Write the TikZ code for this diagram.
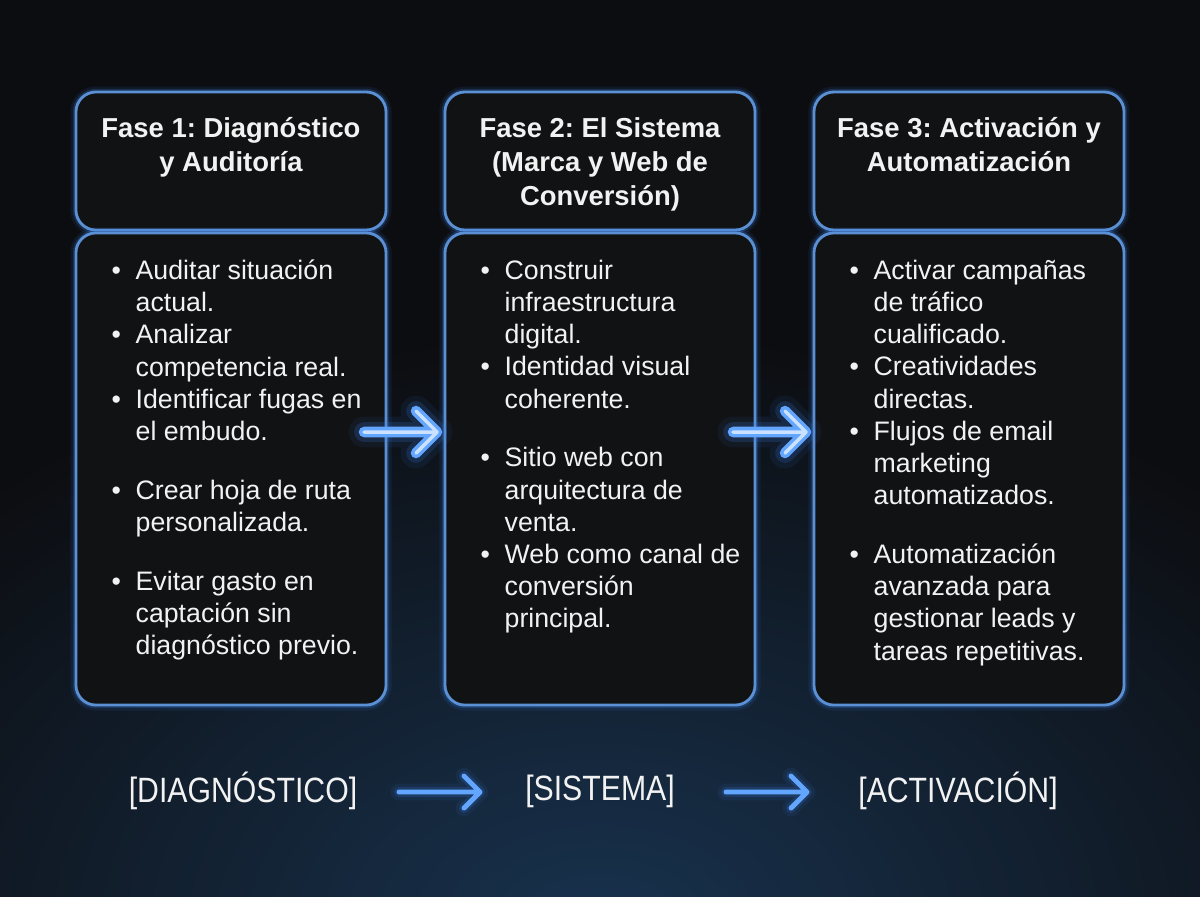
\documentclass[tikz,border=0pt]{standalone}
\usepackage{fontspec}
\setmainfont{Liberation Sans}
\newfontfamily\tagfont[FakeStretch=0.86]{Liberation Sans}
\usepackage{xcolor}
\usepackage{tikz}
\usetikzlibrary{positioning}
\definecolor{bgdark}{HTML}{0C0D10}
\definecolor{bgglow}{HTML}{18324E}
\definecolor{boxfill}{HTML}{111214}
\definecolor{edgeblue}{HTML}{5B90D4}
\definecolor{glowblue}{HTML}{3D8BFF}
\definecolor{arrowblue}{HTML}{63A6FF}
\definecolor{corelight}{HTML}{D6E8FF}
\definecolor{textwhite}{HTML}{F2F2F2}

\newcommand{\bitem}{\makebox[0.6cm][l]{\textbullet}}
\newcommand{\bcont}{\hspace*{0.6cm}}

\tikzset{
  panel/.style={draw=edgeblue, line width=2pt, fill=boxfill, rounded corners=0.5cm,
    minimum width=7.75cm, inner sep=0pt,
    preaction={draw=glowblue, line width=8pt, opacity=0.09},
    preaction={draw=glowblue, line width=4.5pt, opacity=0.2}},
  hdbox/.style={panel, minimum height=3.45cm},
  bdbox/.style={panel, minimum height=11.8cm},
  hdtext/.style={anchor=north, align=center, inner sep=0pt, text=textwhite,
    font=\bfseries\fontsize{19.5}{24.2}\selectfont},
  bdtext/.style={anchor=north west, align=left, inner sep=0pt, text=textwhite,
    font=\fontsize{19}{22.9}\selectfont},
  tagtext/.style={text=textwhite, font=\tagfont\fontsize{25}{28}\selectfont},
  glowline/.style={line cap=round, line join=round}
}

\begin{document}
\frenchspacing
\begin{tikzpicture}[x=0.025cm, y=-0.025cm]
  % background
  \fill[bgdark] (0,0) rectangle (1200,896);
  \begin{scope}
    \clip (0,0) rectangle (1200,896);
    \shade[inner color=bgglow, outer color=bgdark] (600,930) ellipse (900 and 600);
  \end{scope}
  \useasboundingbox (0,0) rectangle (1200,896);

  % panels
  \foreach \i/\cx in {1/231, 2/600, 3/969}{
    \node[hdbox] (hd\i) at (\cx,161) {};
    \node[bdbox] (bd\i) at (\cx,469) {};
  }

  % headers
  \node[hdtext, below=0.66cm of hd1.north] (hdt1) {Fase 1: Diagnóstico\\y Auditoría};
  \node[hdtext, below=0.66cm of hd2.north] (hdt2) {Fase 2: El Sistema\\(Marca y Web de\\Conversión)};
  \node[hdtext, below=0.66cm of hd3.north] (hdt3) {Fase 3: Activación y\\Automatización};

  % bullet lists
  \node[bdtext, below right=0.7cm and 0.92cm of bd1.north west] (bdt1) {%
    \bitem Auditar situación\\ \bcont actual.\\
    \bitem Analizar\\ \bcont competencia real.\\
    \bitem Identificar fugas en\\ \bcont el embudo.\\[19pt]
    \bitem Crear hoja de ruta\\ \bcont personalizada.\\[19pt]
    \bitem Evitar gasto en\\ \bcont captación sin\\ \bcont diagnóstico previo.};
  \node[bdtext, below right=0.7cm and 0.92cm of bd2.north west] (bdt2) {%
    \bitem Construir\\ \bcont infraestructura\\ \bcont digital.\\
    \bitem Identidad visual\\ \bcont coherente.\\[19pt]
    \bitem Sitio web con\\ \bcont arquitectura de\\ \bcont venta.\\
    \bitem Web como canal de\\ \bcont conversión\\ \bcont principal.};
  \node[bdtext, below right=0.7cm and 0.92cm of bd3.north west] (bdt3) {%
    \bitem Activar campañas\\ \bcont de tráfico\\ \bcont cualificado.\\
    \bitem Creatividades\\ \bcont directas.\\
    \bitem Flujos de email\\ \bcont marketing\\ \bcont automatizados.\\[19pt]
    \bitem Automatización\\ \bcont avanzada para\\ \bcont gestionar leads y\\ \bcont tareas repetitivas.};

  % glowing arrows between panels
  \coordinate (a1s) at (364,432);
  \coordinate (a1e) at (437,432);
  \coordinate (a2s) at (733,432);
  \coordinate (a2e) at (806,432);
  \foreach \s/\e in {a1s/a1e, a2s/a2e}
    \foreach \w/\o/\c in {22/0.07/glowblue, 14/0.16/glowblue, 7.5/1/arrowblue, 2.5/0.9/corelight}
      \draw[glowline, draw=\c, line width=\w pt, opacity=\o]
        (\s) -- (\e) ++(-21,-21) -- (\e) -- ++(-21,21);

  % bottom tags
  \node[tagtext] (tag1) at (243,791) {[DIAGNÓSTICO]};
  \node[tagtext] (tag2) at (600,791) {[SISTEMA]};
  \node[tagtext] (tag3) at (958,791) {[ACTIVACIÓN]};
  \coordinate (b1s) at (399,792);
  \coordinate (b1e) at (480,792);
  \coordinate (b2s) at (726,792);
  \coordinate (b2e) at (807,792);
  \foreach \s/\e in {b1s/b1e, b2s/b2e}
    \foreach \w/\o/\c in {12/0.08/glowblue, 7/0.16/glowblue, 3.5/1/arrowblue}
      \draw[glowline, draw=\c, line width=\w pt, opacity=\o]
        (\s) -- (\e) ++(-16,-16) -- (\e) -- ++(-16,16);
\end{tikzpicture}
\end{document}
